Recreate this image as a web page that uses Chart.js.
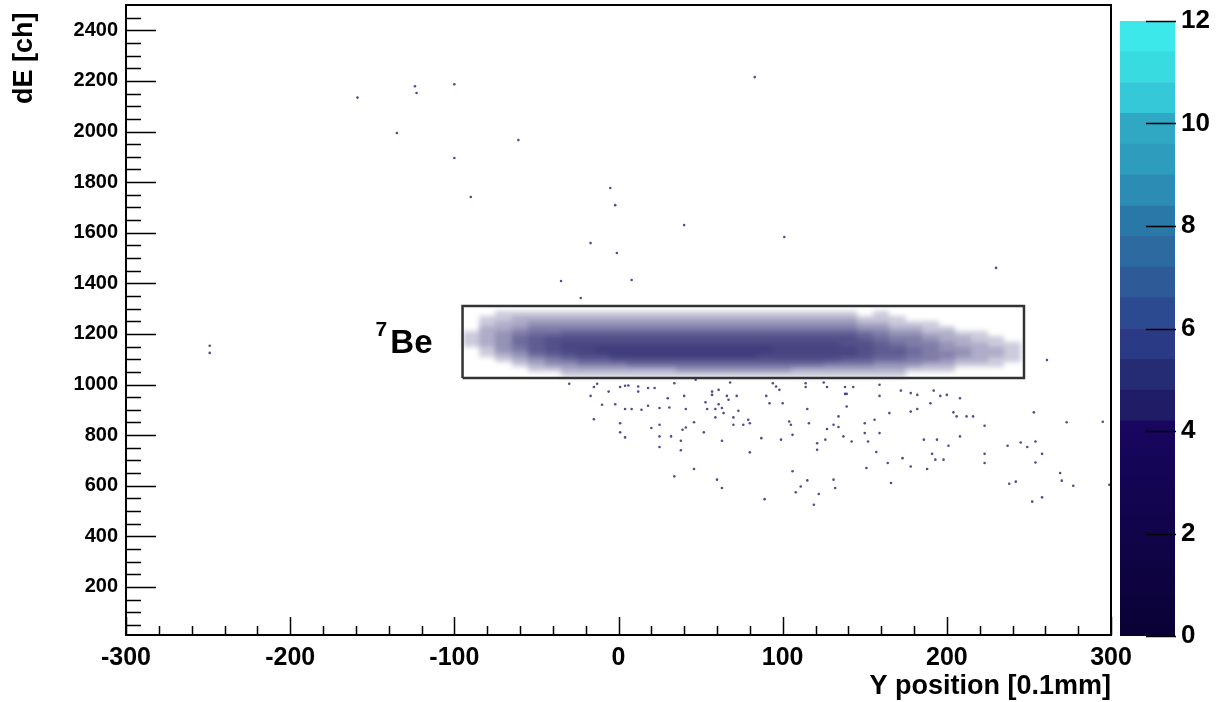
<!DOCTYPE html>
<html><head><meta charset="utf-8">
<script src="https://cdn.jsdelivr.net/npm/chart.js@4.4.1/dist/chart.umd.min.js"></script>
<style>
html,body{margin:0;padding:0;background:#fff;}
#wrap{position:relative;width:1225px;height:702px;}
#main{position:absolute;left:0;top:0;}
#zbar{position:absolute;left:1111px;top:0;}
</style></head><body>
<div id="wrap"><canvas id="main" width="1225" height="702"></canvas><canvas id="zbar" width="114" height="702"></canvas></div>
<script>
// ---- data ----
const xTicks = [-300,-200,-100,0,100,200,300];
const yTicks = [200,400,600,800,1000,1200,1400,1600,1800,2000,2200,2400];
const zTicks = [0,2,4,6,8,10,12];

// density band: column centres (Y position), row centres (dE), relative density levels 0-9
const bandX = [-90,-80,-70,-60,-50,-40,-30,-20,-10,0,10,20,30,40,50,60,70,80,90,100,110,120,130,140,150,160,170,180,190,200,210,220,230,240];
const bandY = [1280,1260,1240,1220,1200,1180,1160,1140,1120,1100,1080,1060,1040];
const density = [
 [0,0,1,1,1,1,1,1,1,1,1,1,1,1,1,1,1,1,1,1,1,1,1,1,0,1,0,0,0,0,0,0,0,0],
 [0,1,1,2,2,2,2,2,2,2,2,2,2,2,2,2,2,2,2,2,2,2,2,2,1,1,1,0,0,0,0,0,0,0],
 [0,1,2,2,3,3,3,3,3,3,3,3,3,3,3,3,3,3,3,3,3,3,3,3,2,2,1,1,1,0,0,0,0,0],
 [0,2,2,3,4,4,4,4,4,4,4,4,4,4,4,4,4,4,4,4,4,4,4,4,3,3,2,2,1,1,0,0,0,0],
 [1,2,3,4,5,5,6,6,6,6,6,6,6,6,6,6,6,6,6,6,6,6,6,6,5,4,3,3,2,2,1,1,0,0],
 [1,2,3,5,6,7,7,7,7,7,7,7,7,7,7,7,7,7,7,7,7,7,7,7,6,5,4,4,3,2,2,1,1,0],
 [1,2,3,5,6,7,8,8,8,8,8,8,8,8,8,8,8,8,8,8,8,8,8,7,7,6,5,4,4,3,2,2,1,1],
 [0,1,3,4,6,7,8,8,9,9,9,9,9,9,9,9,9,9,9,8,8,8,8,8,7,6,6,5,4,3,3,2,2,1],
 [0,1,2,3,5,6,7,8,8,9,9,9,9,9,9,9,9,9,8,8,8,8,8,8,7,6,6,5,4,4,3,2,2,1],
 [0,0,1,2,3,4,5,6,6,7,7,7,7,7,7,7,7,7,7,7,7,7,7,6,6,5,5,4,4,3,2,2,1,1],
 [0,0,0,1,2,3,3,4,4,4,5,5,5,5,5,5,5,5,5,5,5,5,4,4,4,3,3,3,2,2,1,1,1,0],
 [0,0,0,0,1,1,2,2,2,2,2,2,2,3,3,3,3,3,3,3,2,2,2,2,2,2,2,1,1,1,0,0,0,0],
 [0,0,0,0,0,0,1,1,1,1,1,1,1,1,1,1,1,1,1,1,1,1,1,1,1,1,1,0,0,0,0,0,0,0]
];

// isolated entries [Y position, dE]
const outliers = [
 [-159,2134],[-124,2179],[-123,2152],[-100,2187],[-135,1994],[-100,1895],[-61,1966],[-90,1741],[83,2215],[-5,1777],
 [-2,1709],[40,1630],[101,1583],[-17,1559],[-1,1520],[230,1461],[8,1413],[-35,1409],[-23,1342],[-249,1153],[-249,1125],
 [261,1097],[295,853],[299,604],
 [-30,1003],[-17,955],[-15,990],[-13,1003],[-10,920],[-6,972],[-15,863],[-2,922],[1,847],[1,811],[1,990],[4,995],[6,996],
 [4,903],[4,791],[8,903],[12,992],[12,972],[14,900],[18,986],[18,916],[20,828],[22,986],[25,907],[25,841],[25,795],[25,753],
 [30,946],[31,909],[32,795],[34,637],[34,1005],[38,778],[38,740],[39,821],[40,955],[41,830],[41,903],[46,851],[46,666],
 [47,1019],[52,811],[53,930],[54,903],[57,972],[57,959],[59,903],[59,870],[60,624],[61,979],[61,922],[63,778],[63,591],
 [63,907],[64,887],[66,955],[67,940],[68,1008],[70,870],[70,841],[72,955],[73,896],[76,841],[79,861],[80,847],[80,732],
 [87,788],[89,547],[90,955],[92,926],[94,1005],[96,992],[98,979],[99,782],[100,926],[104,854],[105,841],[106,801],[106,657],
 [108,574],[111,597],[114,1005],[114,990],[115,903],[115,621],[116,847],[119,525],[121,742],[121,768],[122,567],[125,1008],
 [126,782],[127,990],[127,824],[131,624],[131,841],[132,591],[134,874],[134,832],[137,795],[138,990],[138,963],[139,963],
 [139,913],[142,775],[143,990],[150,847],[150,808],[151,670],[152,775],[156,861],[157,733],[159,955],[159,999],[159,808],
 [164,690],[165,887],[166,611],[172,976],[173,709],[178,966],[178,676],[178,893],[182,903],[182,959],[186,782],[188,666],
 [190,926],[191,726],[192,976],[193,703],[194,782],[196,955],[198,703],[200,959],[201,758],[204,890],[206,874],[208,946],
 [208,795],[212,874],[216,874],[223,837],[223,726],[223,690],[237,758],[238,608],[242,616],[245,771],[249,753],[252,537],
 [253,890],[254,775],[254,692],[258,726],[258,554],[269,650],[270,620],[273,851],[277,600]
];

// selection box
const boxX = [-95,247,247,-95,-95];
const boxY = [1026,1026,1310,1310,1026];

// label
const labelMain = 'Be', labelSup = '7';
const labelMainPos = [-139,1126];
const labelSupPos = [-148,1190];

// colour scale (z)
const zEdges = [4.2,4.8,5.4,6.0,6.6,7.2,7.8,8.4,9.0,9.6,10.2,10.8,11.4,12];
const zColors = ['#201c66','#262c74','#2a3a84','#2c4a90','#2e5a98','#2c6aa0','#2a78a8','#2c8cb4','#2e9cbc','#30a8c4','#34c8d8','#38dce0','#3ce8ea'];
const zLowColors = ['#0a0234','#180660'];

// ---- styling ----
const FONT = "'Liberation Sans', Arial, Helvetica, sans-serif";
const levelAlpha = [0,0.24,0.38,0.5,0.6,0.68,0.75,0.81,0.86,0.9];

const rootPlugin = {
  id: 'rootDecor',
  beforeDatasetsDraw(chart){
    const {ctx, chartArea:a, scales:{x,y}} = chart;
    const off = document.createElement('canvas');
    off.width = chart.width; off.height = chart.height;
    const oc = off.getContext('2d');
    density.forEach((row,i)=>row.forEach((v,j)=>{
      if(!v) return;
      const x0=Math.round(x.getPixelForValue(bandX[j]-5)), x1=Math.round(x.getPixelForValue(bandX[j]+5));
      const y0=Math.round(y.getPixelForValue(bandY[i]+10)), y1=Math.round(y.getPixelForValue(bandY[i]-10));
      oc.fillStyle = `rgba(42,38,110,${levelAlpha[v]})`;
      oc.fillRect(x0,y0,x1-x0,y1-y0);
    }));
    ctx.save();
    ctx.beginPath(); ctx.rect(a.left,a.top,a.right-a.left,a.bottom-a.top); ctx.clip();
    ctx.filter = 'blur(2.5px)';
    ctx.drawImage(off,0,0);
    ctx.filter = 'none';
    ctx.restore();
  },
  afterDraw(chart){
    const {ctx, chartArea:a, scales:{x,y}} = chart;
    ctx.save();
    ctx.strokeStyle='#000'; ctx.lineWidth=1.5;
    ctx.beginPath();
    for(let v=-300; v<=300; v+=20){
      const px=Math.round(x.getPixelForValue(v))+0.5;
      const len=(v%100===0)?18:9;
      ctx.moveTo(px,a.bottom); ctx.lineTo(px,a.bottom-len);
    }
    for(let v=50; v<2500; v+=50){
      const py=Math.round(y.getPixelForValue(v))+0.5;
      const len=(v%200===0)?30:15;
      ctx.moveTo(a.left,py); ctx.lineTo(a.left+len,py);
    }
    ctx.stroke();
    ctx.lineWidth=2;
    ctx.strokeRect(a.left,a.top,a.right-a.left,a.bottom-a.top);
    ctx.fillStyle='#000'; ctx.textBaseline='alphabetic'; ctx.textAlign='left';
    ctx.font=`bold 33px ${FONT}`;
    ctx.fillText(labelMain, x.getPixelForValue(labelMainPos[0]), y.getPixelForValue(labelMainPos[1]));
    ctx.font=`bold 21px ${FONT}`;
    ctx.fillText(labelSup, x.getPixelForValue(labelSupPos[0]), y.getPixelForValue(labelSupPos[1]));
    ctx.restore();
  }
};

new Chart(document.getElementById('main'), {
  type:'scatter',
  data:{datasets:[
    {label:'entries', data: outliers.map(p=>({x:p[0],y:p[1]})), pointRadius:1.3, pointBorderWidth:0,
     backgroundColor:'rgba(60,58,125,0.9)', borderColor:'rgba(60,58,125,0.9)'},
    {label:'box', type:'line', data: boxX.map((v,i)=>({x:v,y:boxY[i]})), borderColor:'#333', borderWidth:2.5,
     pointRadius:0, fill:false, tension:0}
  ]},
  options:{
    responsive:false, animation:false, devicePixelRatio:1,
    layout:{padding:{left:0,right:114,top:5,bottom:0}},
    plugins:{legend:{display:false}, tooltip:{enabled:false}},
    scales:{
      x:{type:'linear', min:-300, max:300,
        afterBuildTicks:s=>{s.ticks=xTicks.map(v=>({value:v}));},
        afterFit:s=>{s.height=67; s.paddingLeft=0; s.paddingRight=0;},
        grid:{display:false, drawTicks:false}, border:{display:false},
        ticks:{font:{family:FONT,size:25,weight:'bold'}, color:'#000', padding:8, maxRotation:0, autoSkip:false,
          callback:v=>String(v)},
        title:{display:true, text:'Y position [0.1mm]', align:'end', color:'#000',
          font:{family:FONT,size:27,weight:'bold',lineHeight:1}, padding:{top:0,bottom:2}}
      },
      y:{type:'linear', min:10, max:2500,
        afterBuildTicks:s=>{s.ticks=yTicks.map(v=>({value:v}));},
        afterFit:s=>{s.width=126; s.paddingTop=0; s.paddingBottom=0;},
        grid:{display:false, drawTicks:false}, border:{display:false},
        ticks:{font:{family:FONT,size:20,weight:'bold'}, color:'#000', padding:8, autoSkip:false,
          callback:v=>String(v)},
        title:{display:true, text:'dE [ch] ', align:'end', color:'#000',
          font:{family:FONT,size:27,weight:'bold',lineHeight:1}, padding:{top:11,bottom:0}}
      }
    }
  },
  plugins:[rootPlugin]
});

// colour bar
const zTickPlugin = {
  id:'zTicks',
  afterDraw(chart){
    const {ctx, chartArea:a, scales:{y}} = chart;
    ctx.save(); ctx.strokeStyle='#000'; ctx.lineWidth=1.5; ctx.beginPath();
    zTicks.forEach(v=>{const py=Math.round(y.getPixelForValue(v))+0.5; ctx.moveTo(a.right-29,py); ctx.lineTo(a.right+1,py);});
    ctx.stroke(); ctx.restore();
  }
};
const zDatasets = [{data:[[0,zEdges[0]]], backgroundColor:(c)=>{
  const ys=c.chart.scales.y;
  if(!ys || !c.chart.chartArea) return zLowColors[0];
  const p0=ys.getPixelForValue(0), p1=ys.getPixelForValue(zEdges[0]);
  if(!Number.isFinite(p0) || !Number.isFinite(p1)) return zLowColors[0];
  const g=c.chart.ctx.createLinearGradient(0,p0,0,p1);
  g.addColorStop(0,zLowColors[0]); g.addColorStop(1,zLowColors[1]); return g;}}];
for(let i=0;i<zColors.length;i++){
  zDatasets.push({data:[[zEdges[i],zEdges[i+1]]], backgroundColor:zColors[i]});
}
new Chart(document.getElementById('zbar'), {
  type:'bar',
  data:{labels:['z'], datasets:zDatasets},
  options:{
    responsive:false, animation:false, devicePixelRatio:1,
    layout:{padding:{left:9,top:21,bottom:66,right:0}},
    datasets:{bar:{grouped:false, barPercentage:1, categoryPercentage:1, borderWidth:0}},
    plugins:{legend:{display:false}, tooltip:{enabled:false}},
    scales:{
      x:{display:false},
      y:{position:'right', min:0, max:12,
        afterBuildTicks:s=>{s.ticks=zTicks.map(v=>({value:v}));},
        afterFit:s=>{s.width=50; s.paddingTop=0; s.paddingBottom=0;},
        grid:{display:false, drawTicks:false}, border:{display:false},
        ticks:{font:{family:FONT,size:26,weight:'bold'}, color:'#000', padding:6, autoSkip:false}
      }
    }
  },
  plugins:[zTickPlugin]
});
</script>
</body></html>
